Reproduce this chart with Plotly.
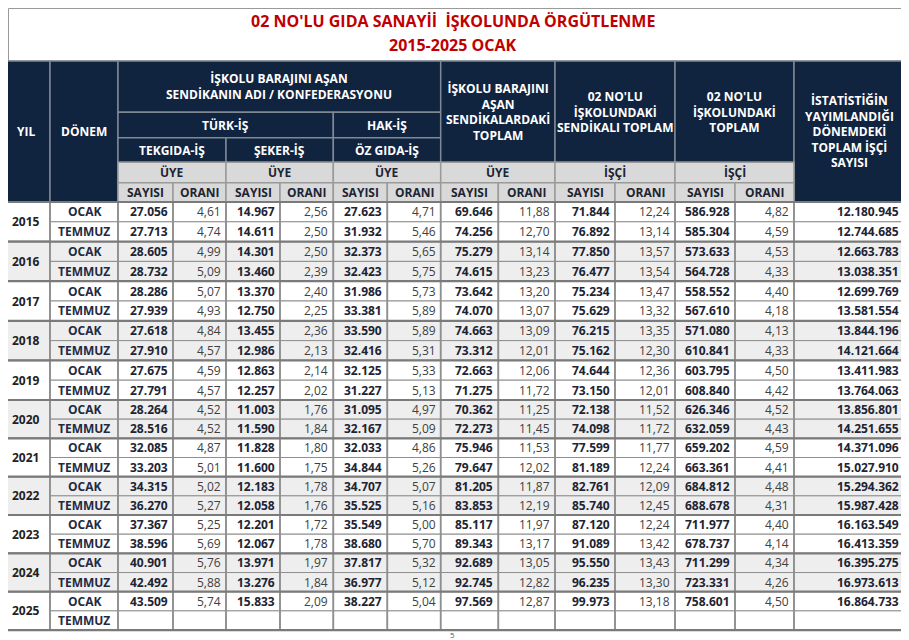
import plotly.graph_objects as go

# ---- texts ----
title_1 = "02 NO'LU GIDA SANAYİİ  İŞKOLUNDA ÖRGÜTLENME"
title_2 = "2015-2025 OCAK"
page_no = "5"

years = [2015, 2016, 2017, 2018, 2019, 2020, 2021, 2022, 2023, 2024, 2025]
periods = ["OCAK", "TEMMUZ"]

# ---- table values (one entry per OCAK / TEMMUZ row, 2025 TEMMUZ empty) ----
tekgida_sayi = [27056, 27713, 28605, 28732, 28286, 27939, 27618, 27910, 27675, 27791, 28264,
                28516, 32085, 33203, 34315, 36270, 37367, 38596, 40901, 42492, 43509, None]
tekgida_oran = [4.61, 4.74, 4.99, 5.09, 5.07, 4.93, 4.84, 4.57, 4.59, 4.57, 4.52,
                4.52, 4.87, 5.01, 5.02, 5.27, 5.25, 5.69, 5.76, 5.88, 5.74, None]
seker_sayi = [14967, 14611, 14301, 13460, 13370, 12750, 13455, 12986, 12863, 12257, 11003,
              11590, 11828, 11600, 12183, 12058, 12201, 12067, 13971, 13276, 15833, None]
seker_oran = [2.56, 2.50, 2.50, 2.39, 2.40, 2.25, 2.36, 2.13, 2.14, 2.02, 1.76,
              1.84, 1.80, 1.75, 1.78, 1.76, 1.72, 1.78, 1.97, 1.84, 2.09, None]
ozgida_sayi = [27623, 31932, 32373, 32423, 31986, 33381, 33590, 32416, 32125, 31227, 31095,
               32167, 32033, 34844, 34707, 35525, 35549, 38680, 37817, 36977, 38227, None]
ozgida_oran = [4.71, 5.46, 5.65, 5.75, 5.73, 5.89, 5.89, 5.31, 5.33, 5.13, 4.97,
               5.09, 4.86, 5.26, 5.07, 5.16, 5.00, 5.70, 5.32, 5.12, 5.04, None]
baraj_sayi = [69646, 74256, 75279, 74615, 73642, 74070, 74663, 73312, 72663, 71275, 70362,
              72273, 75946, 79647, 81205, 83853, 85117, 89343, 92689, 92745, 97569, None]
baraj_oran = [11.88, 12.70, 13.14, 13.23, 13.20, 13.07, 13.09, 12.01, 12.06, 11.72, 11.25,
              11.45, 11.53, 12.02, 11.87, 12.19, 11.97, 13.17, 13.05, 12.82, 12.87, None]
sendikali_sayi = [71844, 76892, 77850, 76477, 75234, 75629, 76215, 75162, 74644, 73150, 72138,
                  74098, 77599, 81189, 82761, 85740, 87120, 91089, 95550, 96235, 99973, None]
sendikali_oran = [12.24, 13.14, 13.57, 13.54, 13.47, 13.32, 13.35, 12.30, 12.36, 12.01, 11.52,
                  11.72, 11.77, 12.24, 12.09, 12.45, 12.24, 13.42, 13.43, 13.30, 13.18, None]
iskolu_sayi = [586928, 585304, 573633, 564728, 558552, 567610, 571080, 610841, 603795, 608840, 626346,
               632059, 659202, 663361, 684812, 688678, 711977, 678737, 711299, 723331, 758601, None]
iskolu_oran = [4.82, 4.59, 4.53, 4.33, 4.40, 4.18, 4.13, 4.33, 4.50, 4.42, 4.52,
               4.43, 4.59, 4.41, 4.48, 4.31, 4.40, 4.14, 4.34, 4.26, 4.50, None]
toplam_isci = [12180945, 12744685, 12663783, 13038351, 12699769, 13581554, 13844196, 14121664,
               13411983, 13764063, 13856801, 14251655, 14371096, 15027910, 15294362, 15987428,
               16163549, 16413359, 16395275, 16973613, 16864733, None]

value_columns = [tekgida_sayi, tekgida_oran, seker_sayi, seker_oran, ozgida_sayi, ozgida_oran,
                 baraj_sayi, baraj_oran, sendikali_sayi, sendikali_oran,
                 iskolu_sayi, iskolu_oran, toplam_isci]

# ---- geometry (pixel grid of the page) ----
W, H = 909, 640
OFF = 8  # the html body keeps an 8px margin, so the plot starts at (8, 8)
col_x = [1, 50, 118, 173, 226, 280, 333.3, 387.3, 440.7, 498.3, 555, 615, 675, 735, 794, 904]
head_y = [61, 112.3, 137.7, 162.3, 182.7, 202]
row_h = [19.8] * 10 + [19.17] * 12
row_y = [head_y[-1]]
for h in row_h:
    row_y.append(row_y[-1] + h)

NAVY = "#10233f"
NAVY_LINE = "#7f8893"
HEAD_GRAY = "#d9d9d9"
ALT_GRAY = "#eeeeee"
GRID = "#8f8f8f"
TXT = "#1d2433"
FONT = "Open Sans"


def fmt_int(v):
    return f"{v:,}".replace(",", ".")


def fmt_pct(v):
    return f"{v:.2f}".replace(".", ",")


fig = go.Figure()
shapes = []
annotations = []


def cell(x0, x1, y0, y1, fill, line_color, line_w=1.5):
    shapes.append(dict(type="rect", xref="x", yref="y", x0=x0, x1=x1, y0=y0, y1=y1,
                       fillcolor=fill, line=dict(color=line_color, width=line_w)))


def text(x, y, s, size=12, color=TXT, bold=True, xanchor="center"):
    if bold:
        s = "<b>" + s + "</b>"
    annotations.append(dict(x=x, y=y, xref="x", yref="y", text=s, showarrow=False,
                            xanchor=xanchor, yanchor="middle",
                            font=dict(family=FONT, size=size, color=color)))


# title box
cell(OFF + 0.5, col_x[-1], OFF + 0.5, head_y[0], "white", "#9a9a9a", 1)
text(W / 2 - 2, 21, title_1, size=16, color="#c00000")
text(W / 2 - 2, 45, title_2, size=16, color="#c00000")

# header cells: (col start, col end, row start, row end, label, navy?)
header_cells = [
    (0, 1, 0, 5, "YIL", True),
    (1, 2, 0, 5, "DÖNEM", True),
    (2, 8, 0, 1, "İŞKOLU BARAJINI AŞAN<br>SENDİKANIN ADI / KONFEDERASYONU", True),
    (2, 6, 1, 2, "TÜRK-İŞ", True),
    (6, 8, 1, 2, "HAK-İŞ", True),
    (2, 4, 2, 3, "TEKGIDA-İŞ", True),
    (4, 6, 2, 3, "ŞEKER-İŞ", True),
    (6, 8, 2, 3, "ÖZ GIDA-İŞ", True),
    (8, 10, 0, 3, "İŞKOLU BARAJINI<br>AŞAN<br>SENDİKALARDAKİ<br>TOPLAM", True),
    (10, 12, 0, 3, "02 NO'LU<br>İŞKOLUNDAKİ<br>SENDİKALI TOPLAM", True),
    (12, 14, 0, 3, "02 NO'LU<br>İŞKOLUNDAKİ<br>TOPLAM", True),
    (14, 15, 0, 5, "İSTATİSTİĞİN<br>YAYIMLANDIĞI<br>DÖNEMDEKİ<br>TOPLAM İŞÇİ<br>SAYISI", True),
    (2, 4, 3, 4, "ÜYE", False),
    (4, 6, 3, 4, "ÜYE", False),
    (6, 8, 3, 4, "ÜYE", False),
    (8, 10, 3, 4, "ÜYE", False),
    (10, 12, 3, 4, "İŞÇİ", False),
    (12, 14, 3, 4, "İŞÇİ", False),
]
for c in range(2, 14):
    header_cells.append((c, c + 1, 4, 5, "SAYISI" if c % 2 == 0 else "ORANI", False))

for c0, c1, r0, r1, label, navy in header_cells:
    x0, x1, y0, y1 = col_x[c0], col_x[c1], head_y[r0], head_y[r1]
    if navy:
        cell(x0, x1, y0, y1, NAVY, NAVY_LINE)
        text((x0 + x1) / 2, (y0 + y1) / 2, label, color="white")
    else:
        cell(x0, x1, y0, y1, HEAD_GRAY, "#9a9a9a")
        text((x0 + x1) / 2, (y0 + y1) / 2, label, color=TXT)

# body
for i, yr in enumerate(years):
    bg = ALT_GRAY if i % 2 == 1 else "white"
    y0, y1 = row_y[2 * i], row_y[2 * i + 2]
    cell(col_x[0], col_x[1], y0, y1, bg, GRID)
    text((col_x[0] + col_x[1]) / 2, (y0 + y1) / 2, str(yr), color="#222222")
    for k, per in enumerate(periods):
        r = 2 * i + k
        ry0, ry1 = row_y[r], row_y[r + 1]
        ym = (ry0 + ry1) / 2
        cell(col_x[1], col_x[2], ry0, ry1, bg, GRID, 1)
        text((col_x[1] + col_x[2]) / 2, ym, per, color="#1f2a44")
        for j, col in enumerate(value_columns):
            c = j + 2
            cell(col_x[c], col_x[c + 1], ry0, ry1, bg, GRID, 1)
            v = col[r]
            if v is None:
                continue
            is_pct = isinstance(v, float)
            s = fmt_pct(v) if is_pct else fmt_int(v)
            text(col_x[c + 1] - 3, ym, s, color="#404040" if is_pct else TXT,
                 bold=not is_pct, xanchor="right")

# vertical grid lines over the body
for x in col_x:
    shapes.append(dict(type="line", xref="x", yref="y", x0=x, x1=x, y0=row_y[0], y1=row_y[-1],
                       line=dict(color=GRID, width=1.8)))
# thicker separators between the years
for i in range(len(years) + 1):
    y = row_y[2 * i]
    shapes.append(dict(type="line", xref="x", yref="y", x0=col_x[0], x1=col_x[-1], y0=y, y1=y,
                       line=dict(color="#7a7a7a", width=2.2)))

text(452, 634.5, page_no, size=8, color="#555555", bold=False)

# plot area covers the page from (8, 8) to the window edge, axis units = page pixels
fig.update_layout(
    width=W - OFF, height=H - OFF,
    margin=dict(l=0, r=0, t=0, b=0, pad=0),
    paper_bgcolor="white", plot_bgcolor="white",
    shapes=shapes, annotations=annotations,
    showlegend=False,
)
fig.update_xaxes(range=[OFF, W], visible=False, fixedrange=True)
fig.update_yaxes(range=[H, OFF], visible=False, fixedrange=True)

fig.write_html("out.html")
